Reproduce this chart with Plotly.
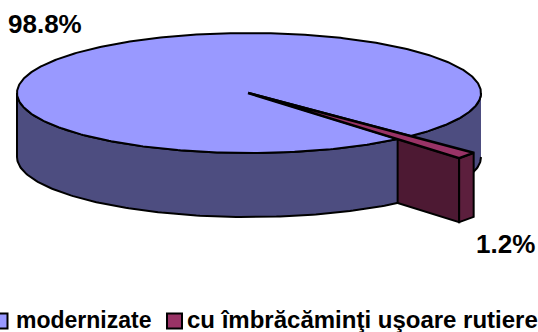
import numpy as np
import plotly.graph_objects as go

categories = ["modernizate", "cu îmbrăcăminţi uşoare rutiere"]
values = [98.8, 1.2]
labels = ["98.8%", "1.2%"]

CX, CY, RX, RY, DEPTH = 249, 93, 232, 60, 64
R_FAR, R_NEAR = 1.39, 1.414
MID_DEG = 48.0
BLUE, BLUE_SIDE = "#9999FF", "#4D4D80"
WINE, WINE_FRONT, WINE_SIDE = "#993366", "#4D1933", "#5C1F3D"
LW = 2

sweep = 360 * values[1] / sum(values)
a0 = np.radians(MID_DEG - sweep / 2)   # far/right edge of small slice
a1 = np.radians(MID_DEG + sweep / 2)   # near/left edge of small slice


def pt(a, r=1.0, dz=0):
    return CX + RX * r * np.cos(a), CY + RY * r * np.sin(a) + dz


fig = go.Figure()


def poly(xs, ys, fill, name=None, width=LW):
    fig.add_trace(go.Scatter(x=list(xs), y=list(ys), mode="lines", fill="toself",
                             fillcolor=fill, line=dict(color="black", width=width),
                             hoverinfo="skip", showlegend=False, name=name))


# Main slice: wall (visible lower half, from the right rim round to the left rim)
t = np.linspace(0, np.pi, 200)
wx = np.r_[CX + RX * np.cos(t), (CX + RX * np.cos(t))[::-1]]
wy = np.r_[CY + RY * np.sin(t) + DEPTH, (CY + RY * np.sin(t))[::-1]]
poly(wx, wy, BLUE_SIDE, categories[0] + " wall")

# Main slice: top face, going the long way round from a1 to a0 + 360
t = np.linspace(a1, a0 + 2 * np.pi, 500)
poly(np.r_[CX, CX + RX * np.cos(t), CX], np.r_[CY, CY + RY * np.sin(t), CY], BLUE, categories[0])

# Small exploded slice: front face, end face, top wedge
p0t, p1t = pt(a0, R_FAR), pt(a1, R_NEAR)
p0b, p1b = pt(a0, R_FAR, DEPTH), pt(a1, R_NEAR, DEPTH)
mt, mb = pt(a1, 1.0), pt(a1, 1.0, DEPTH)
poly([mt[0], p1t[0], p1b[0], mb[0], mt[0]], [mt[1], p1t[1], p1b[1], mb[1], mt[1]], WINE_FRONT, categories[1] + " front")
poly([p1t[0], p0t[0], p0b[0], p1b[0], p1t[0]], [p1t[1], p0t[1], p0b[1], p1b[1], p1t[1]], WINE_SIDE, categories[1] + " end")
poly([CX - 1, p0t[0], p1t[0], CX - 1], [CY, p0t[1], p1t[1], CY], WINE, categories[1], width=2.5)

# Legend swatches
fig.add_trace(go.Scatter(x=[0, 174.5], y=[321, 321], mode="markers",
                         marker=dict(symbol="square", size=15, color=[BLUE, WINE],
                                     line=dict(color="black", width=2)),
                         hoverinfo="skip", showlegend=False, cliponaxis=False))

FONT = "Liberation Sans, Arial, sans-serif"
def label(text, x, y, size):
    fig.add_annotation(x=x, y=y, text="<b>%s</b>" % text, showarrow=False, xanchor="left", yanchor="middle",
                       font=dict(family=FONT, size=size, color="black"))

label(labels[0], 6, 24, 26)
label(labels[1], 474, 244, 26)
label(categories[0], 13.5, 320, 23)
label(categories[1], 185, 319.4, 24)

fig.update_xaxes(range=[0, 538], visible=False, fixedrange=True)
fig.update_yaxes(range=[332, 0], visible=False, fixedrange=True)
fig.update_layout(width=538, height=332, margin=dict(l=0, r=0, t=0, b=0),
                  paper_bgcolor="white", plot_bgcolor="white", showlegend=False)
fig.write_html("out.html", config={"displayModeBar": False},
               post_script="document.body.style.margin='0';document.body.style.overflow='hidden';")
